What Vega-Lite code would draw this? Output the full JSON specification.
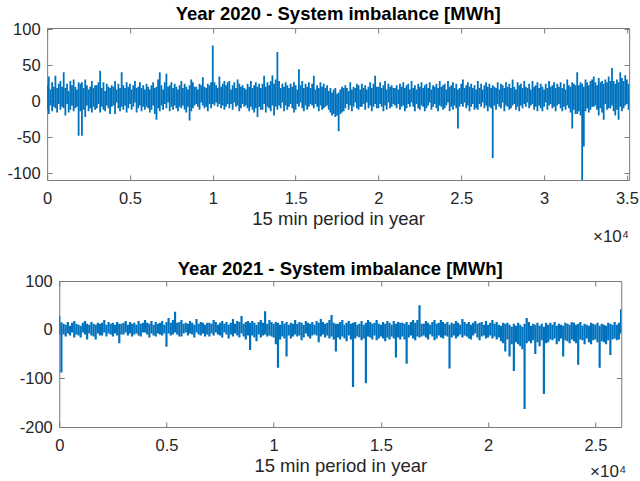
{
"$schema": "https://vega.github.io/schema/vega-lite/v6.json",
"padding": {"left": 6, "top": 4, "right": 0, "bottom": 0},
"background": "white",
"spacing": 13,
"center": true,
"datasets": {
"y2020": [
{"t":0,"lo":-12,"hi":22},{"t":100,"lo":-18,"hi":34},{"t":200,"lo":-6,"hi":16},{"t":300,"lo":-14,"hi":26},{"t":400,"lo":-8,"hi":20},{"t":500,"lo":-10,"hi":35},{"t":600,"lo":-16,"hi":18},{"t":700,"lo":-4,"hi":24},{"t":800,"lo":-12,"hi":28},{"t":900,"lo":-8,"hi":20},
{"t":1000,"lo":-10,"hi":40},{"t":1100,"lo":-20,"hi":18},{"t":1200,"lo":-4,"hi":24},{"t":1300,"lo":-16,"hi":14},{"t":1400,"lo":-12,"hi":28},{"t":1500,"lo":-6,"hi":22},{"t":1600,"lo":-14,"hi":30},{"t":1700,"lo":-10,"hi":20},{"t":1800,"lo":-8,"hi":16},{"t":1900,"lo":-48,"hi":26},
{"t":2000,"lo":-14,"hi":24},{"t":2100,"lo":-48,"hi":26},{"t":2200,"lo":-12,"hi":18},{"t":2300,"lo":-22,"hi":30},{"t":2400,"lo":-6,"hi":22},{"t":2500,"lo":-14,"hi":16},{"t":2600,"lo":-10,"hi":20},{"t":2700,"lo":-16,"hi":28},{"t":2800,"lo":-8,"hi":18},{"t":2900,"lo":-12,"hi":22},
{"t":3000,"lo":-10,"hi":22},{"t":3100,"lo":-4,"hi":26},{"t":3200,"lo":-16,"hi":42},{"t":3300,"lo":-8,"hi":18},{"t":3400,"lo":-12,"hi":26},{"t":3500,"lo":-14,"hi":14},{"t":3600,"lo":-6,"hi":24},{"t":3700,"lo":-10,"hi":20},{"t":3800,"lo":-18,"hi":18},{"t":3900,"lo":-8,"hi":22},
{"t":4000,"lo":-6,"hi":20},{"t":4100,"lo":-18,"hi":28},{"t":4200,"lo":-2,"hi":16},{"t":4300,"lo":-10,"hi":24},{"t":4400,"lo":-14,"hi":18},{"t":4500,"lo":-8,"hi":40},{"t":4600,"lo":-12,"hi":22},{"t":4700,"lo":-6,"hi":18},{"t":4800,"lo":-16,"hi":26},{"t":4900,"lo":-10,"hi":20},
{"t":5000,"lo":-4,"hi":24},{"t":5100,"lo":-12,"hi":16},{"t":5200,"lo":-8,"hi":22},{"t":5300,"lo":-2,"hi":28},{"t":5400,"lo":-16,"hi":18},{"t":5500,"lo":-10,"hi":20},{"t":5600,"lo":-6,"hi":26},{"t":5700,"lo":-14,"hi":18},{"t":5800,"lo":-8,"hi":22},{"t":5900,"lo":-12,"hi":16},
{"t":6000,"lo":-8,"hi":24},{"t":6100,"lo":-10,"hi":20},{"t":6200,"lo":-16,"hi":16},{"t":6300,"lo":-12,"hi":22},{"t":6400,"lo":-6,"hi":26},{"t":6500,"lo":-18,"hi":18},{"t":6600,"lo":-26,"hi":20},{"t":6700,"lo":-10,"hi":30},{"t":6800,"lo":-14,"hi":40},{"t":6900,"lo":-6,"hi":22},
{"t":7000,"lo":-12,"hi":16},{"t":7100,"lo":-4,"hi":26},{"t":7200,"lo":-10,"hi":38},{"t":7300,"lo":-2,"hi":20},{"t":7400,"lo":-14,"hi":22},{"t":7500,"lo":-8,"hi":26},{"t":7600,"lo":-12,"hi":18},{"t":7700,"lo":-6,"hi":24},{"t":7800,"lo":-10,"hi":20},{"t":7900,"lo":-14,"hi":16},
{"t":8000,"lo":-8,"hi":22},{"t":8100,"lo":-10,"hi":28},{"t":8200,"lo":-6,"hi":18},{"t":8300,"lo":-12,"hi":24},{"t":8400,"lo":-16,"hi":20},{"t":8500,"lo":-8,"hi":16},{"t":8600,"lo":-27,"hi":22},{"t":8700,"lo":-14,"hi":30},{"t":8800,"lo":-10,"hi":26},{"t":8900,"lo":-6,"hi":20},
{"t":9000,"lo":-4,"hi":20},{"t":9100,"lo":-8,"hi":16},{"t":9200,"lo":-12,"hi":24},{"t":9300,"lo":-2,"hi":22},{"t":9400,"lo":-6,"hi":33},{"t":9500,"lo":-10,"hi":20},{"t":9600,"lo":-8,"hi":18},{"t":9700,"lo":-14,"hi":24},{"t":9800,"lo":-4,"hi":22},{"t":9900,"lo":-10,"hi":26},
{"t":10000,"lo":-4,"hi":77},{"t":10100,"lo":-6,"hi":26},{"t":10200,"lo":-2,"hi":22},{"t":10300,"lo":-8,"hi":18},{"t":10400,"lo":-4,"hi":34},{"t":10500,"lo":-10,"hi":20},{"t":10600,"lo":-6,"hi":24},{"t":10700,"lo":-12,"hi":28},{"t":10800,"lo":-8,"hi":22},{"t":10900,"lo":-4,"hi":26},
{"t":11000,"lo":-10,"hi":28},{"t":11100,"lo":-4,"hi":16},{"t":11200,"lo":-12,"hi":22},{"t":11300,"lo":-2,"hi":26},{"t":11400,"lo":-8,"hi":18},{"t":11500,"lo":-6,"hi":30},{"t":11600,"lo":-14,"hi":24},{"t":11700,"lo":-10,"hi":20},{"t":11800,"lo":-4,"hi":22},{"t":11900,"lo":-8,"hi":18},
{"t":12000,"lo":-6,"hi":16},{"t":12100,"lo":-10,"hi":24},{"t":12200,"lo":-14,"hi":20},{"t":12300,"lo":-8,"hi":28},{"t":12400,"lo":-12,"hi":18},{"t":12500,"lo":-16,"hi":22},{"t":12600,"lo":-10,"hi":26},{"t":12700,"lo":-22,"hi":20},{"t":12800,"lo":-8,"hi":24},{"t":12900,"lo":-12,"hi":18},
{"t":13000,"lo":-12,"hi":24},{"t":13100,"lo":-4,"hi":35},{"t":13200,"lo":-16,"hi":20},{"t":13300,"lo":-8,"hi":26},{"t":13400,"lo":-10,"hi":22},{"t":13500,"lo":-14,"hi":28},{"t":13600,"lo":-6,"hi":36},{"t":13700,"lo":-20,"hi":24},{"t":13800,"lo":-8,"hi":30},{"t":13900,"lo":-12,"hi":68},
{"t":14000,"lo":-6,"hi":28},{"t":14100,"lo":-10,"hi":18},{"t":14200,"lo":-2,"hi":24},{"t":14300,"lo":-14,"hi":20},{"t":14400,"lo":-6,"hi":26},{"t":14500,"lo":-12,"hi":22},{"t":14600,"lo":-8,"hi":18},{"t":14700,"lo":-4,"hi":24},{"t":14800,"lo":-10,"hi":20},{"t":14900,"lo":-16,"hi":26},
{"t":15000,"lo":-12,"hi":22},{"t":15100,"lo":-4,"hi":16},{"t":15200,"lo":-8,"hi":44},{"t":15300,"lo":-2,"hi":22},{"t":15400,"lo":-10,"hi":28},{"t":15500,"lo":-14,"hi":18},{"t":15600,"lo":-6,"hi":24},{"t":15700,"lo":-12,"hi":20},{"t":15800,"lo":-8,"hi":26},{"t":15900,"lo":-4,"hi":18},
{"t":16000,"lo":-6,"hi":24},{"t":16100,"lo":-10,"hi":35},{"t":16200,"lo":-4,"hi":16},{"t":16300,"lo":-8,"hi":22},{"t":16400,"lo":-14,"hi":18},{"t":16500,"lo":-6,"hi":26},{"t":16600,"lo":-12,"hi":20},{"t":16700,"lo":-10,"hi":24},{"t":16800,"lo":-8,"hi":18},{"t":16900,"lo":-6,"hi":22},
{"t":17000,"lo":-12,"hi":14},{"t":17100,"lo":-16,"hi":18},{"t":17200,"lo":-20,"hi":12},{"t":17300,"lo":-18,"hi":16},{"t":17400,"lo":-22,"hi":18},{"t":17500,"lo":-20,"hi":10},{"t":17600,"lo":-42,"hi":12},{"t":17700,"lo":-18,"hi":16},{"t":17800,"lo":-16,"hi":20},{"t":17900,"lo":-14,"hi":18},
{"t":18000,"lo":-10,"hi":22},{"t":18100,"lo":-4,"hi":18},{"t":18200,"lo":-12,"hi":14},{"t":18300,"lo":-6,"hi":26},{"t":18400,"lo":-14,"hi":16},{"t":18500,"lo":-8,"hi":20},{"t":18600,"lo":-2,"hi":18},{"t":18700,"lo":-10,"hi":24},{"t":18800,"lo":-12,"hi":22},{"t":18900,"lo":-8,"hi":16},
{"t":19000,"lo":-8,"hi":24},{"t":19100,"lo":-4,"hi":18},{"t":19200,"lo":-12,"hi":22},{"t":19300,"lo":-2,"hi":16},{"t":19400,"lo":-10,"hi":20},{"t":19500,"lo":-6,"hi":26},{"t":19600,"lo":-14,"hi":18},{"t":19700,"lo":-8,"hi":24},{"t":19800,"lo":-4,"hi":35},{"t":19900,"lo":-10,"hi":20},
{"t":20000,"lo":-10,"hi":20},{"t":20100,"lo":-4,"hi":26},{"t":20200,"lo":-8,"hi":18},{"t":20300,"lo":-14,"hi":22},{"t":20400,"lo":-6,"hi":28},{"t":20500,"lo":-12,"hi":16},{"t":20600,"lo":-2,"hi":24},{"t":20700,"lo":-10,"hi":20},{"t":20800,"lo":-8,"hi":22},{"t":20900,"lo":-4,"hi":18},
{"t":21000,"lo":-6,"hi":18},{"t":21100,"lo":-10,"hi":22},{"t":21200,"lo":-4,"hi":16},{"t":21300,"lo":-12,"hi":24},{"t":21400,"lo":-8,"hi":20},{"t":21500,"lo":-6,"hi":26},{"t":21600,"lo":-14,"hi":18},{"t":21700,"lo":-10,"hi":22},{"t":21800,"lo":-4,"hi":24},{"t":21900,"lo":-8,"hi":16},
{"t":22000,"lo":-2,"hi":28},{"t":22100,"lo":-8,"hi":18},{"t":22200,"lo":-14,"hi":22},{"t":22300,"lo":-4,"hi":16},{"t":22400,"lo":-10,"hi":24},{"t":22500,"lo":-12,"hi":20},{"t":22600,"lo":-6,"hi":26},{"t":22700,"lo":-8,"hi":18},{"t":22800,"lo":-14,"hi":22},{"t":22900,"lo":-10,"hi":24},
{"t":23000,"lo":-6,"hi":18},{"t":23100,"lo":-2,"hi":26},{"t":23200,"lo":-12,"hi":16},{"t":23300,"lo":-8,"hi":22},{"t":23400,"lo":-4,"hi":20},{"t":23500,"lo":-10,"hi":24},{"t":23600,"lo":-14,"hi":18},{"t":23700,"lo":-6,"hi":28},{"t":23800,"lo":-8,"hi":20},{"t":23900,"lo":-12,"hi":22},
{"t":24000,"lo":-10,"hi":24},{"t":24100,"lo":-6,"hi":16},{"t":24200,"lo":-2,"hi":28},{"t":24300,"lo":-14,"hi":20},{"t":24400,"lo":-8,"hi":22},{"t":24500,"lo":-12,"hi":26},{"t":24600,"lo":-6,"hi":18},{"t":24700,"lo":-10,"hi":24},{"t":24800,"lo":-38,"hi":16},{"t":24900,"lo":-8,"hi":18},
{"t":25000,"lo":-4,"hi":24},{"t":25100,"lo":-8,"hi":30},{"t":25200,"lo":-2,"hi":18},{"t":25300,"lo":-10,"hi":22},{"t":25400,"lo":-6,"hi":26},{"t":25500,"lo":-14,"hi":20},{"t":25600,"lo":-8,"hi":24},{"t":25700,"lo":-4,"hi":18},{"t":25800,"lo":-12,"hi":22},{"t":25900,"lo":-10,"hi":16},
{"t":26000,"lo":-12,"hi":28},{"t":26100,"lo":-4,"hi":18},{"t":26200,"lo":-8,"hi":24},{"t":26300,"lo":-2,"hi":16},{"t":26400,"lo":-10,"hi":22},{"t":26500,"lo":-6,"hi":26},{"t":26600,"lo":-14,"hi":20},{"t":26700,"lo":-8,"hi":24},{"t":26800,"lo":-10,"hi":18},{"t":26900,"lo":-79,"hi":22},
{"t":27000,"lo":-6,"hi":20},{"t":27100,"lo":-12,"hi":18},{"t":27200,"lo":-4,"hi":26},{"t":27300,"lo":-8,"hi":16},{"t":27400,"lo":-10,"hi":24},{"t":27500,"lo":-2,"hi":22},{"t":27600,"lo":-14,"hi":18},{"t":27700,"lo":-6,"hi":26},{"t":27800,"lo":-8,"hi":20},{"t":27900,"lo":-12,"hi":24},
{"t":28000,"lo":-10,"hi":18},{"t":28100,"lo":-6,"hi":30},{"t":28200,"lo":-4,"hi":20},{"t":28300,"lo":-12,"hi":16},{"t":28400,"lo":-8,"hi":26},{"t":28500,"lo":-14,"hi":22},{"t":28600,"lo":-6,"hi":24},{"t":28700,"lo":-10,"hi":18},{"t":28800,"lo":-4,"hi":28},{"t":28900,"lo":-8,"hi":20},
{"t":29000,"lo":-2,"hi":18},{"t":29100,"lo":-10,"hi":24},{"t":29200,"lo":-6,"hi":16},{"t":29300,"lo":-4,"hi":28},{"t":29400,"lo":-12,"hi":20},{"t":29500,"lo":-8,"hi":22},{"t":29600,"lo":-14,"hi":26},{"t":29700,"lo":-6,"hi":18},{"t":29800,"lo":-10,"hi":24},{"t":29900,"lo":-14,"hi":20},
{"t":30000,"lo":-8,"hi":16},{"t":30100,"lo":-2,"hi":24},{"t":30200,"lo":-12,"hi":18},{"t":30300,"lo":-6,"hi":28},{"t":30400,"lo":-4,"hi":20},{"t":30500,"lo":-10,"hi":22},{"t":30600,"lo":-8,"hi":26},{"t":30700,"lo":-14,"hi":18},{"t":30800,"lo":-6,"hi":24},{"t":30900,"lo":-4,"hi":20},
{"t":31000,"lo":-10,"hi":26},{"t":31100,"lo":-14,"hi":18},{"t":31200,"lo":-8,"hi":24},{"t":31300,"lo":-12,"hi":16},{"t":31400,"lo":-6,"hi":30},{"t":31500,"lo":-10,"hi":22},{"t":31600,"lo":-16,"hi":20},{"t":31700,"lo":-38,"hi":26},{"t":31800,"lo":-12,"hi":24},{"t":31900,"lo":-18,"hi":22},
{"t":32000,"lo":-18,"hi":40},{"t":32100,"lo":-14,"hi":22},{"t":32200,"lo":-20,"hi":26},{"t":32300,"lo":-110,"hi":24},{"t":32400,"lo":-63,"hi":20},{"t":32500,"lo":-14,"hi":30},{"t":32600,"lo":-10,"hi":26},{"t":32700,"lo":-16,"hi":22},{"t":32800,"lo":-12,"hi":28},{"t":32900,"lo":-8,"hi":30},
{"t":33000,"lo":-8,"hi":34},{"t":33100,"lo":-6,"hi":26},{"t":33200,"lo":-12,"hi":22},{"t":33300,"lo":-20,"hi":32},{"t":33400,"lo":-10,"hi":26},{"t":33500,"lo":-16,"hi":28},{"t":33600,"lo":-26,"hi":24},{"t":33700,"lo":-4,"hi":30},{"t":33800,"lo":-12,"hi":26},{"t":33900,"lo":-10,"hi":34},
{"t":34000,"lo":-10,"hi":28},{"t":34100,"lo":-6,"hi":46},{"t":34200,"lo":-14,"hi":28},{"t":34300,"lo":-20,"hi":24},{"t":34400,"lo":-12,"hi":30},{"t":34500,"lo":-26,"hi":26},{"t":34600,"lo":-8,"hi":40},{"t":34700,"lo":-14,"hi":32},{"t":34800,"lo":-10,"hi":28},{"t":34900,"lo":-6,"hi":36},
{"t":35000,"lo":-4,"hi":30},{"t":35100,"lo":-12,"hi":24}
],
"y2021": [
{"t":0,"lo":-10,"hi":28},{"t":100,"lo":-88,"hi":15},{"t":200,"lo":-10,"hi":12},{"t":300,"lo":-14,"hi":10},{"t":400,"lo":-8,"hi":16},{"t":500,"lo":-12,"hi":8},{"t":600,"lo":-6,"hi":14},{"t":700,"lo":-16,"hi":18},{"t":800,"lo":-10,"hi":12},{"t":900,"lo":-12,"hi":10},
{"t":1000,"lo":-16,"hi":8},{"t":1100,"lo":-6,"hi":14},{"t":1200,"lo":-10,"hi":18},{"t":1300,"lo":-20,"hi":12},{"t":1400,"lo":-8,"hi":10},{"t":1500,"lo":-12,"hi":16},{"t":1600,"lo":-14,"hi":12},{"t":1700,"lo":-20,"hi":10},{"t":1800,"lo":-8,"hi":14},{"t":1900,"lo":-12,"hi":12},
{"t":2000,"lo":-12,"hi":14},{"t":2100,"lo":-6,"hi":20},{"t":2200,"lo":-14,"hi":10},{"t":2300,"lo":-8,"hi":16},{"t":2400,"lo":-10,"hi":12},{"t":2500,"lo":-14,"hi":14},{"t":2600,"lo":-8,"hi":10},{"t":2700,"lo":-12,"hi":16},{"t":2800,"lo":-28,"hi":12},{"t":2900,"lo":-10,"hi":12},
{"t":3000,"lo":-10,"hi":14},{"t":3100,"lo":-6,"hi":18},{"t":3200,"lo":-12,"hi":10},{"t":3300,"lo":-8,"hi":16},{"t":3400,"lo":-14,"hi":12},{"t":3500,"lo":-10,"hi":14},{"t":3600,"lo":-8,"hi":10},{"t":3700,"lo":-12,"hi":18},{"t":3800,"lo":-14,"hi":12},{"t":3900,"lo":-6,"hi":14},
{"t":4000,"lo":-6,"hi":20},{"t":4100,"lo":-10,"hi":14},{"t":4200,"lo":-16,"hi":12},{"t":4300,"lo":-8,"hi":18},{"t":4400,"lo":-12,"hi":10},{"t":4500,"lo":-14,"hi":16},{"t":4600,"lo":-8,"hi":12},{"t":4700,"lo":-10,"hi":14},{"t":4800,"lo":-12,"hi":18},{"t":4900,"lo":-8,"hi":10},
{"t":5000,"lo":-35,"hi":16},{"t":5100,"lo":-8,"hi":24},{"t":5200,"lo":-12,"hi":14},{"t":5300,"lo":-10,"hi":20},{"t":5400,"lo":-6,"hi":37},{"t":5500,"lo":-10,"hi":14},{"t":5600,"lo":-14,"hi":16},{"t":5700,"lo":-14,"hi":20},{"t":5800,"lo":-8,"hi":12},{"t":5900,"lo":-6,"hi":14},
{"t":6000,"lo":-12,"hi":12},{"t":6100,"lo":-8,"hi":18},{"t":6200,"lo":-10,"hi":14},{"t":6300,"lo":-16,"hi":10},{"t":6400,"lo":-6,"hi":22},{"t":6500,"lo":-10,"hi":12},{"t":6600,"lo":-12,"hi":16},{"t":6700,"lo":-8,"hi":14},{"t":6800,"lo":-14,"hi":10},{"t":6900,"lo":-10,"hi":14},
{"t":7000,"lo":-14,"hi":14},{"t":7100,"lo":-8,"hi":12},{"t":7200,"lo":-12,"hi":20},{"t":7300,"lo":-6,"hi":16},{"t":7400,"lo":-10,"hi":10},{"t":7500,"lo":-12,"hi":14},{"t":7600,"lo":-16,"hi":18},{"t":7700,"lo":-6,"hi":12},{"t":7800,"lo":-10,"hi":16},{"t":7900,"lo":-18,"hi":10},
{"t":8000,"lo":-10,"hi":14},{"t":8100,"lo":-14,"hi":22},{"t":8200,"lo":-8,"hi":12},{"t":8300,"lo":-12,"hi":18},{"t":8400,"lo":-16,"hi":16},{"t":8500,"lo":-8,"hi":28},{"t":8600,"lo":-14,"hi":12},{"t":8700,"lo":-20,"hi":16},{"t":8800,"lo":-12,"hi":18},{"t":8900,"lo":-42,"hi":14},
{"t":9000,"lo":-12,"hi":18},{"t":9100,"lo":-16,"hi":14},{"t":9200,"lo":-24,"hi":10},{"t":9300,"lo":-10,"hi":16},{"t":9400,"lo":-16,"hi":20},{"t":9500,"lo":-12,"hi":14},{"t":9600,"lo":-10,"hi":38},{"t":9700,"lo":-14,"hi":12},{"t":9800,"lo":-12,"hi":20},{"t":9900,"lo":-14,"hi":16},
{"t":10000,"lo":-16,"hi":12},{"t":10100,"lo":-30,"hi":16},{"t":10200,"lo":-78,"hi":14},{"t":10300,"lo":-20,"hi":10},{"t":10400,"lo":-14,"hi":18},{"t":10500,"lo":-18,"hi":12},{"t":10600,"lo":-55,"hi":16},{"t":10700,"lo":-12,"hi":10},{"t":10800,"lo":-18,"hi":14},{"t":10900,"lo":-14,"hi":12},
{"t":11000,"lo":-10,"hi":20},{"t":11100,"lo":-14,"hi":12},{"t":11200,"lo":-12,"hi":16},{"t":11300,"lo":-22,"hi":14},{"t":11400,"lo":-16,"hi":10},{"t":11500,"lo":-8,"hi":18},{"t":11600,"lo":-14,"hi":14},{"t":11700,"lo":-18,"hi":12},{"t":11800,"lo":-12,"hi":16},{"t":11900,"lo":-10,"hi":10},
{"t":12000,"lo":-12,"hi":18},{"t":12100,"lo":-26,"hi":14},{"t":12200,"lo":-14,"hi":22},{"t":12300,"lo":-10,"hi":16},{"t":12400,"lo":-16,"hi":12},{"t":12500,"lo":-12,"hi":14},{"t":12600,"lo":-18,"hi":20},{"t":12700,"lo":-14,"hi":30},{"t":12800,"lo":-20,"hi":14},{"t":12900,"lo":-45,"hi":12},
{"t":13000,"lo":-16,"hi":12},{"t":13100,"lo":-20,"hi":16},{"t":13200,"lo":-14,"hi":20},{"t":13300,"lo":-18,"hi":10},{"t":13400,"lo":-24,"hi":14},{"t":13500,"lo":-12,"hi":18},{"t":13600,"lo":-20,"hi":12},{"t":13700,"lo":-118,"hi":14},{"t":13800,"lo":-18,"hi":16},{"t":13900,"lo":-14,"hi":10},
{"t":14000,"lo":-16,"hi":12},{"t":14100,"lo":-22,"hi":18},{"t":14200,"lo":-18,"hi":10},{"t":14300,"lo":-110,"hi":14},{"t":14400,"lo":-14,"hi":20},{"t":14500,"lo":-16,"hi":16},{"t":14600,"lo":-20,"hi":12},{"t":14700,"lo":-12,"hi":14},{"t":14800,"lo":-22,"hi":20},{"t":14900,"lo":-18,"hi":12},
{"t":15000,"lo":-14,"hi":10},{"t":15100,"lo":-18,"hi":16},{"t":15200,"lo":-24,"hi":12},{"t":15300,"lo":-16,"hi":18},{"t":15400,"lo":-20,"hi":14},{"t":15500,"lo":-14,"hi":10},{"t":15600,"lo":-18,"hi":18},{"t":15700,"lo":-57,"hi":12},{"t":15800,"lo":-16,"hi":16},{"t":15900,"lo":-20,"hi":14},
{"t":16000,"lo":-14,"hi":14},{"t":16100,"lo":-20,"hi":12},{"t":16200,"lo":-70,"hi":16},{"t":16300,"lo":-16,"hi":10},{"t":16400,"lo":-12,"hi":16},{"t":16500,"lo":-18,"hi":20},{"t":16600,"lo":-22,"hi":14},{"t":16700,"lo":-14,"hi":20},{"t":16800,"lo":-16,"hi":50},{"t":16900,"lo":-14,"hi":12},
{"t":17000,"lo":-12,"hi":12},{"t":17100,"lo":-16,"hi":18},{"t":17200,"lo":-20,"hi":14},{"t":17300,"lo":-10,"hi":10},{"t":17400,"lo":-14,"hi":16},{"t":17500,"lo":-22,"hi":20},{"t":17600,"lo":-18,"hi":12},{"t":17700,"lo":-12,"hi":14},{"t":17800,"lo":-16,"hi":20},{"t":17900,"lo":-18,"hi":16},
{"t":18000,"lo":-12,"hi":12},{"t":18100,"lo":-14,"hi":16},{"t":18200,"lo":-80,"hi":10},{"t":18300,"lo":-16,"hi":14},{"t":18400,"lo":-12,"hi":12},{"t":18500,"lo":-18,"hi":18},{"t":18600,"lo":-14,"hi":14},{"t":18700,"lo":-10,"hi":10},{"t":18800,"lo":-16,"hi":22},{"t":18900,"lo":-12,"hi":16},
{"t":19000,"lo":-14,"hi":12},{"t":19100,"lo":-18,"hi":16},{"t":19200,"lo":-20,"hi":10},{"t":19300,"lo":-12,"hi":14},{"t":19400,"lo":-8,"hi":18},{"t":19500,"lo":-16,"hi":12},{"t":19600,"lo":-22,"hi":14},{"t":19700,"lo":-14,"hi":16},{"t":19800,"lo":-12,"hi":10},{"t":19900,"lo":-18,"hi":18},
{"t":20000,"lo":-16,"hi":10},{"t":20100,"lo":-12,"hi":14},{"t":20200,"lo":-18,"hi":20},{"t":20300,"lo":-14,"hi":12},{"t":20400,"lo":-20,"hi":16},{"t":20500,"lo":-16,"hi":10},{"t":20600,"lo":-24,"hi":8},{"t":20700,"lo":-28,"hi":14},{"t":20800,"lo":-45,"hi":12},{"t":20900,"lo":-20,"hi":14},
{"t":21000,"lo":-55,"hi":10},{"t":21100,"lo":-30,"hi":6},{"t":21200,"lo":-85,"hi":12},{"t":21300,"lo":-26,"hi":8},{"t":21400,"lo":-30,"hi":14},{"t":21500,"lo":-34,"hi":10},{"t":21600,"lo":-40,"hi":6},{"t":21700,"lo":-163,"hi":12},{"t":21800,"lo":-28,"hi":24},{"t":21900,"lo":-24,"hi":16},
{"t":22000,"lo":-28,"hi":8},{"t":22100,"lo":-22,"hi":12},{"t":22200,"lo":-50,"hi":10},{"t":22300,"lo":-26,"hi":14},{"t":22400,"lo":-34,"hi":8},{"t":22500,"lo":-22,"hi":12},{"t":22600,"lo":-132,"hi":6},{"t":22700,"lo":-28,"hi":14},{"t":22800,"lo":-26,"hi":10},{"t":22900,"lo":-20,"hi":14},
{"t":23000,"lo":-22,"hi":10},{"t":23100,"lo":-18,"hi":16},{"t":23200,"lo":-30,"hi":8},{"t":23300,"lo":-24,"hi":12},{"t":23400,"lo":-18,"hi":10},{"t":23500,"lo":-55,"hi":8},{"t":23600,"lo":-22,"hi":14},{"t":23700,"lo":-24,"hi":12},{"t":23800,"lo":-28,"hi":10},{"t":23900,"lo":-20,"hi":16},
{"t":24000,"lo":-24,"hi":14},{"t":24100,"lo":-28,"hi":10},{"t":24200,"lo":-72,"hi":12},{"t":24300,"lo":-20,"hi":16},{"t":24400,"lo":-22,"hi":8},{"t":24500,"lo":-30,"hi":12},{"t":24600,"lo":-18,"hi":10},{"t":24700,"lo":-26,"hi":8},{"t":24800,"lo":-30,"hi":14},{"t":24900,"lo":-22,"hi":12},
{"t":25000,"lo":-20,"hi":10},{"t":25100,"lo":-26,"hi":14},{"t":25200,"lo":-78,"hi":8},{"t":25300,"lo":-24,"hi":12},{"t":25400,"lo":-26,"hi":10},{"t":25500,"lo":-30,"hi":8},{"t":25600,"lo":-22,"hi":14},{"t":25700,"lo":-52,"hi":12},{"t":25800,"lo":-20,"hi":10},{"t":25900,"lo":-18,"hi":16},
{"t":26000,"lo":-22,"hi":10},{"t":26100,"lo":-20,"hi":14},{"t":26200,"lo":-8,"hi":42}
]
},
"vconcat": [
{
"width": 582,
"height": 152,
"title": {"text": "Year 2020 - System imbalance [MWh]", "offset": -2},
"layer": [
{
"data": {"name": "y2020"},
"mark": {"type": "rule", "color": "#0072BD", "strokeWidth": 1.8, "clip": true},
"encoding": {
"x": {"field": "t", "type": "quantitative", "scale": {"domain": [0, 35136], "nice": false, "zero": false},
"axis": {"orient": "bottom", "values": [0, 5000, 10000, 15000, 20000, 25000, 30000, 35000], "labelExpr": "datum.value / 10000", "title": "15 min period in year"}},
"y": {"field": "lo", "type": "quantitative", "scale": {"domain": [-109.5, 101.4], "nice": false, "zero": false},
"axis": {"orient": "left", "values": [-100, -50, 0, 50, 100], "labelExpr": "'' + datum.value", "title": null}},
"y2": {"field": "hi"}
}
},
{
"data": {"values": [{"label": "×10⁴"}]},
"mark": {"type": "text", "align": "right", "baseline": "alphabetic", "dy": 62, "fontSize": 17, "font": "Liberation Sans", "color": "#262626"},
"encoding": {
"text": {"field": "label", "type": "nominal"},
"x": {"datum": 35136, "type": "quantitative", "axis": {"orient": "top", "values": [0, 5000, 10000, 15000, 20000, 25000, 30000, 35000], "labels": false, "title": null}},
"y": {"datum": -109.5, "type": "quantitative", "axis": {"orient": "right", "values": [-100, -50, 0, 50, 100], "labels": false, "title": null}}
}
}
]
},
{
"width": 562,
"height": 146,
"title": {"text": "Year 2021 - System imbalance [MWh]", "offset": -5},
"layer": [
{
"data": {"name": "y2021"},
"mark": {"type": "rule", "color": "#0072BD", "strokeWidth": 2.2, "clip": true},
"encoding": {
"x": {"field": "t", "type": "quantitative", "scale": {"domain": [0, 26208], "nice": false, "zero": false},
"axis": {"orient": "bottom", "values": [0, 5000, 10000, 15000, 20000, 25000], "labelExpr": "datum.value / 10000", "title": "15 min period in year"}},
"y": {"field": "lo", "type": "quantitative", "scale": {"domain": [-200, 100], "nice": false, "zero": false},
"axis": {"orient": "left", "values": [-200, -100, 0, 100], "labelExpr": "'' + datum.value", "title": null}},
"y2": {"field": "hi"}
}
},
{
"data": {"values": [{"label": "×10⁴"}]},
"mark": {"type": "text", "align": "right", "baseline": "alphabetic", "dy": 50, "dx": 5, "fontSize": 17, "font": "Liberation Sans", "color": "#262626"},
"encoding": {
"text": {"field": "label", "type": "nominal"},
"x": {"datum": 26208, "type": "quantitative", "axis": {"orient": "top", "values": [0, 5000, 10000, 15000, 20000, 25000], "labels": false, "title": null}},
"y": {"datum": -200, "type": "quantitative", "axis": {"orient": "right", "values": [-200, -100, 0, 100], "labels": false, "title": null}}
}
}
]
}
],
"config": {
"view": {"stroke": "#7a7a7a", "strokeWidth": 1},
"font": "Liberation Sans",
"axis": {"domain": false, "grid": false, "tickColor": "#7a7a7a", "tickSize": -5, "tickWidth": 1,
"labelFont": "Liberation Sans", "labelFontSize": 16.5, "labelColor": "#262626",
"titleFont": "Liberation Sans", "titleFontSize": 18.5, "titleFontWeight": "normal", "titleColor": "#262626"},
"axisX": {"labelPadding": 15, "titlePadding": 3, "labelFlush": false, "labelOverlap": false},
"axisY": {"labelPadding": 12, "labelOverlap": false},
"title": {"font": "Liberation Sans", "fontSize": 18.5, "fontWeight": "bold", "color": "#000000", "frame": "group", "anchor": "middle", "baseline": "alphabetic"}
}
}
